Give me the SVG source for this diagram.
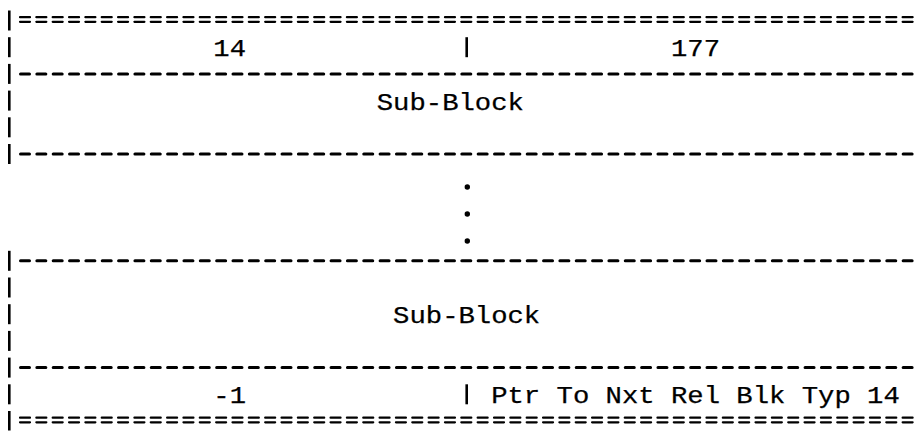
<svg xmlns="http://www.w3.org/2000/svg" width="915" height="431" viewBox="0 0 915 431">
<style>
.t{font-family:"Liberation Mono","Courier New",monospace;font-size:23.5px;fill:#000;stroke:#000;stroke-width:0.25px;white-space:pre}
.dash{stroke:#000;stroke-width:3;stroke-linecap:round;stroke-dasharray:9 7.345;fill:none}
.dbl{stroke:#000;stroke-width:2.2;stroke-linecap:round;stroke-dasharray:10 6.345;fill:none}
.bar{stroke:#000;stroke-width:2.6;fill:none}
</style>
<rect width="915" height="431" fill="#fff"/>
<g id="rules">
<line class="dbl" x1="20" y1="17.2" x2="914" y2="17.2"/>
<line class="dbl" x1="20" y1="21.8" x2="914" y2="21.8"/>
<line class="dash" x1="20.5" y1="74" x2="914" y2="74"/>
<line class="dash" x1="20.5" y1="154" x2="914" y2="154"/>
<line class="dash" x1="20.5" y1="260.8" x2="914" y2="260.8"/>
<line class="dash" x1="20.5" y1="367.6" x2="914" y2="367.6"/>
<line class="dbl" x1="20" y1="417.7" x2="914" y2="417.7"/>
<line class="dbl" x1="20" y1="422.3" x2="914" y2="422.3"/>
<line class="bar" x1="9.3" y1="10.5" x2="9.3" y2="30.5"/>
<line class="bar" x1="9.3" y1="37.2" x2="9.3" y2="57.2"/>
<line class="bar" x1="466.7" y1="37.2" x2="466.7" y2="57.2"/>
<line class="bar" x1="9.3" y1="63.9" x2="9.3" y2="83.9"/>
<line class="bar" x1="9.3" y1="90.6" x2="9.3" y2="110.6"/>
<line class="bar" x1="9.3" y1="117.3" x2="9.3" y2="137.3"/>
<line class="bar" x1="9.3" y1="144" x2="9.3" y2="164"/>
<line class="bar" x1="9.3" y1="250.8" x2="9.3" y2="270.8"/>
<line class="bar" x1="9.3" y1="277.5" x2="9.3" y2="297.5"/>
<line class="bar" x1="9.3" y1="304.2" x2="9.3" y2="324.2"/>
<line class="bar" x1="9.3" y1="330.9" x2="9.3" y2="350.9"/>
<line class="bar" x1="9.3" y1="357.6" x2="9.3" y2="377.6"/>
<line class="bar" x1="9.3" y1="384.3" x2="9.3" y2="404.3"/>
<line class="bar" x1="466.7" y1="384.3" x2="466.7" y2="404.3"/>
<line class="bar" x1="9.3" y1="411" x2="9.3" y2="430.5"/>
</g>
<g id="field-14" class="t"><text x="213.32" y="56.2" textLength="32.69" lengthAdjust="spacingAndGlyphs">14</text></g>
<g id="field-177" class="t"><text x="670.98" y="56.2" textLength="49.035" lengthAdjust="spacingAndGlyphs">177</text></g>
<g id="sub-block-1" class="t"><text x="376.77" y="109.6" textLength="147.1" lengthAdjust="spacingAndGlyphs">Sub-Block</text></g>
<g id="ellipsis" fill="#000">
<circle cx="467.3" cy="187" r="2.7"/>
<circle cx="467.3" cy="214" r="2.7"/>
<circle cx="467.3" cy="241" r="2.7"/>
</g>
<g id="sub-block-2" class="t"><text x="393.11" y="323.2" textLength="147.1" lengthAdjust="spacingAndGlyphs">Sub-Block</text></g>
<g id="field-minus1" class="t"><text x="213.32" y="403.3" textLength="32.69" lengthAdjust="spacingAndGlyphs">-1</text></g>
<g id="field-ptr" class="t" xml:space="preserve"><text x="491.18" y="403.3" textLength="408.6" lengthAdjust="spacingAndGlyphs">Ptr To Nxt Rel Blk Typ 14</text></g>
</svg>
